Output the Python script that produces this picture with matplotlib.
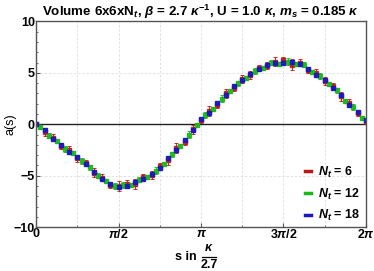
import numpy as np
import matplotlib
matplotlib.use("Agg")
import matplotlib.pyplot as plt
from matplotlib.ticker import MultipleLocator, FixedLocator
from matplotlib.lines import Line2D

##### fuentes #####
plt.rcParams['font.family'] = 'Liberation Sans'
plt.rcParams['font.weight'] = 'bold'
plt.rcParams['mathtext.fontset'] = 'custom'
plt.rcParams['mathtext.rm'] = 'Liberation Sans:bold'
plt.rcParams['mathtext.it'] = 'Liberation Sans:italic:bold'
plt.rcParams['mathtext.bf'] = 'Liberation Sans:bold'

##### datos #####
paso = 2*np.pi/40
s_main = np.arange(41)*paso          # rejilla de N_t=6 y N_t=18
s_half = (np.arange(40)+0.5)*paso    # rejilla de N_t=12

a_nt6 = [0.0,-0.8,-1.3,-2.1,-2.5,-3.3,-3.8,-4.7,-5.2,-5.9,-6.0,-5.8,-5.8,-5.1,-4.9,-4.1,-3.5,-2.3,-1.7,-0.5,
         0.4,1.3,1.9,3.0,3.5,4.4,4.8,5.5,5.7,6.1,6.2,5.8,6.0,5.3,5.0,4.2,3.7,2.7,2.1,1.1,0.3]
e_nt6 = [0.15,0.3,0.35,0.3,0.4,0.35,0.3,0.4,0.35,0.3,0.45,0.35,0.5,0.3,0.4,0.35,0.45,0.5,0.35,0.4,
         0.3,0.45,0.35,0.4,0.3,0.35,0.4,0.3,0.35,0.4,0.3,0.5,0.35,0.3,0.4,0.35,0.3,0.4,0.35,0.3,0.25]

a_nt12 = [-0.3,-1.1,-1.6,-2.4,-2.8,-3.6,-4.2,-5.0,-5.5,-6.0,-5.9,-5.9,-5.4,-5.1,-4.5,-3.9,-2.9,-2.1,-1.0,-0.1,
          0.9,1.5,2.5,3.2,4.0,4.5,5.2,5.5,6.0,5.9,6.1,5.9,5.8,5.1,4.7,3.9,3.3,2.3,1.7,0.6]
e_nt12 = [0.2,0.25,0.2,0.25,0.2,0.3,0.2,0.25,0.2,0.25,0.3,0.2,0.25,0.2,0.3,0.2,0.25,0.2,0.3,0.2,
          0.25,0.2,0.3,0.2,0.25,0.2,0.3,0.2,0.25,0.2,0.3,0.2,0.25,0.2,0.3,0.2,0.25,0.2,0.3,0.2]

a_nt18 = [0.0,-0.6,-1.4,-2.0,-2.7,-3.2,-3.9,-4.6,-5.3,-5.8,-6.1,-6.0,-5.6,-5.3,-4.8,-4.3,-3.3,-2.5,-1.5,-0.6,
          0.5,1.1,2.1,2.8,3.7,4.3,4.9,5.4,5.8,6.0,6.0,6.1,5.9,5.4,4.8,4.3,3.5,2.8,1.9,1.2,0.4]
e_nt18 = [0.1,0.2,0.15,0.2,0.15,0.2,0.15,0.2,0.15,0.2,0.2,0.15,0.2,0.15,0.2,0.15,0.2,0.15,0.2,0.15,
          0.2,0.15,0.2,0.15,0.2,0.15,0.2,0.15,0.2,0.15,0.2,0.15,0.2,0.15,0.2,0.15,0.2,0.15,0.2,0.15,0.1]

etiquetas = [r'$N_t$ = 6', r'$N_t$ = 12', r'$N_t$ = 18']
colores = ['#c01818', '#18b818', '#1818c0']
xticks_lbl = ['0', r'$\pi$/2', r'$\pi$', r'3$\pi$/2', r'2$\pi$']

##### grafica #####
fig = plt.figure(figsize=(3.74, 2.71), dpi=100)
ax = fig.add_axes([0.097, 0.162, 0.881, 0.759])

for xg in np.arange(1, 8)*np.pi/4:
    ax.axvline(xg, color='#dddddd', lw=0.6, ls=(0, (3, 2)), zorder=0)
for yg in [-5, 5]:
    ax.axhline(yg, color='#dddddd', lw=0.6, ls=(0, (3, 2)), zorder=0)
ax.axhline(0, color='#222222', lw=1.0, zorder=1)

series = [(s_main, a_nt6, e_nt6), (s_half, a_nt12, e_nt12), (s_main, a_nt18, e_nt18)]
for (sx, ay, ey), c, lab in zip(series, colores, etiquetas):
    ax.errorbar(sx, ay, yerr=ey, fmt='s', ms=2.2, color=c, ecolor=c, elinewidth=0.8,
                capsize=1.1, capthick=0.7, alpha=0.9, zorder=2)
    ax.plot([], [], color=c, lw=2.5, label=lab)

ax.set_xlim(0, 2*np.pi)
ax.set_ylim(-10, 10)
ax.xaxis.set_major_locator(FixedLocator(np.arange(5)*np.pi/2))
ax.set_xticklabels(xticks_lbl)
ax.xaxis.set_minor_locator(FixedLocator(np.arange(1, 8, 2)*np.pi/4))
ax.yaxis.set_minor_locator(MultipleLocator(1))
ax.set_yticks([-10, -5, 0, 5, 10])
ax.set_yticklabels(['\u221210', '\u22125', '0', '5', '10'])
ax.tick_params(which='both', direction='in', labelsize=9, colors='#555555', labelcolor='black', pad=1)
ax.tick_params(which='major', length=3)
ax.tick_params(which='minor', length=1.5)
for sp in ax.spines.values():
    sp.set_color('#555555')
    sp.set_linewidth(1.0)

ax.set_ylabel('a(s)', fontsize=9)
ax.yaxis.set_label_coords(-0.078, 0.5)
ax.yaxis.label.set_va('center')

# etiqueta x: "s in" y la fraccion kappa/2.7 como en el original
fig.text(197/374, 1-257/271, 's in', fontsize=9, ha='right', va='center')
fig.text(209/374, 1-248/271, r'$\kappa$', fontsize=9, ha='center', va='center')
fig.text(209/374, 1-265.5/271, '2.7', fontsize=9, ha='center', va='center')
fig.add_artist(Line2D([202/374, 216/374], [1-256.5/271, 1-256.5/271], color='black', lw=0.9))

ax.set_title(r'Volume 6x6xN$_t$, $\beta$ = 2.7 $\kappa^{-1}$, U = 1.0 $\kappa$, $m_s$ = 0.185 $\kappa$',
             fontsize=9.6, fontweight='bold', pad=3)

leg = ax.legend(loc='lower right', bbox_to_anchor=(1.01, -0.025), frameon=False, fontsize=9,
                handlelength=0.5, handletextpad=0.6, labelspacing=0.55, borderaxespad=0.3)

fig.savefig('out.png', dpi=100)
